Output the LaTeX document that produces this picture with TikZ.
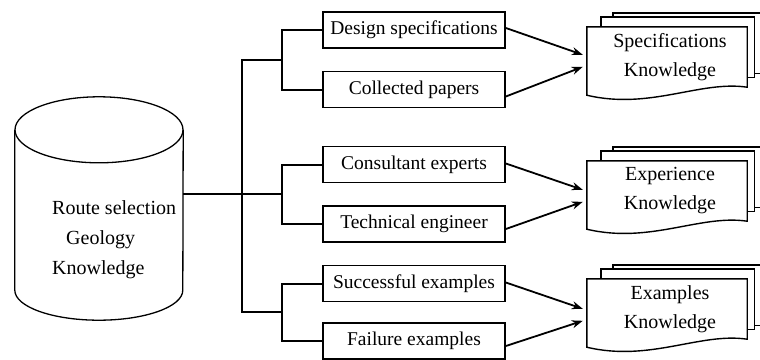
\documentclass[tikz,border=0pt]{standalone}
\usepackage{fontspec}
\setmainfont{Liberation Serif}
\usetikzlibrary{arrows.meta,calc,backgrounds}
\begin{document}
\begin{tikzpicture}[x=1pt,y=1pt,
  srcbox/.style={draw, line width=1.7pt, fill=white, minimum width=182pt, minimum height=36pt, inner sep=0pt, font=\fontsize{19.5}{22}\selectfont},
  tree/.style={line width=2pt},
  arr/.style={line width=1.8pt, -{Stealth[length=11pt,width=8pt]}},
  docfront/.style={minimum width=160pt, minimum height=60pt, inner sep=0pt, font=\fontsize{20}{29}\selectfont, align=center},
  sheet/.style={draw, fill=white, line width=1.4pt},
]
\useasboundingbox (0,0) rectangle (760,-359);

% cylinder
\node[minimum width=168pt, minimum height=223pt, inner sep=0pt] (cyl) at (99,-208.5) {};
\draw[line width=1.3pt] ([yshift=-33]cyl.north west) -- ([yshift=30]cyl.south west)
  arc[start angle=180, end angle=360, x radius=84, y radius=30] -- ([yshift=-33]cyl.north east);
\draw[line width=1.3pt] ([yshift=-33]cyl.north) ellipse[x radius=84, y radius=33];
\node[anchor=west, align=left, inner sep=0pt, font=\fontsize{20}{30}\selectfont] (cyltext) at (52,-240)
  {Route selection\\\hspace*{14pt}Geology\\Knowledge};

% source boxes
\node[srcbox] (b1) at (414,-30) {Design specifications};
\node[srcbox] (b2) at (414,-89.5) {Collected papers};
\node[srcbox] (b3) at (414,-164.5) {Consultant experts};
\node[srcbox] (b4) at (414,-224) {Technical engineer};
\node[srcbox] (b5) at (414,-283.5) {Successful examples};
\node[srcbox] (b6) at (414,-341) {Failure examples};

% tree connectors
\coordinate (g1) at ($(b1.west)!.5!(b2.west)+(-40,0)$);
\coordinate (g2) at ($(b3.west)!.5!(b4.west)+(-40,0)$);
\coordinate (g3) at ($(b5.west)!.5!(b6.west)+(-40,0)$);
\coordinate (t0) at ($(g2)+(-40,0)$);
\draw[tree] (b1.west) -| (g1) |- (b2.west);
\draw[tree] (b3.west) -| (g2) |- (b4.west);
\draw[tree] (b5.west) -| (g3) |- (b6.west);
\draw[tree] (g1) -- (g1 -| t0) -- (g3 -| t0) -- (g3);
\draw[tree] (cyl.east |- t0) -- (g2);

% documents
\node[docfront] (d1) at (667,-57) {\hspace*{6pt}Specifications\\\hspace*{6pt}Knowledge};
\node[docfront] (d2) at (667,-191) {\hspace*{6pt}Experience\\\hspace*{6pt}Knowledge};
\node[docfront] (d3) at (667,-309) {\hspace*{6pt}Examples\\\hspace*{6pt}Knowledge};
\begin{scope}[on background layer]
\foreach \d in {d1,d2,d3}{
  \draw[sheet] ([shift={(26,14)}]\d.north west) rectangle ([shift={(16,14)}]\d.south east);
  \draw[sheet] ([shift={(14,10)}]\d.north west) rectangle ([shift={(7,10)}]\d.south east);
  \draw[sheet] (\d.north west) -- (\d.north east) -- (\d.south east)
    .. controls +(-47,7) and +(63,-15) .. ([yshift=-8]\d.south west) -- cycle;
}
\end{scope}

% arrows
\draw[arr] ([yshift=2]b1.east) -- ([shift={(-4,-28)}]d1.north west);
\draw[arr] ([yshift=-7]b2.east) -- ([shift={(-4,-40)}]d1.north west);
\draw[arr] ([yshift=1]b3.east) -- ([shift={(-4,-29)}]d2.north west);
\draw[arr] ([yshift=-5]b4.east) -- ([shift={(-4,-41)}]d2.north west);
\draw[arr] ([yshift=1]b5.east) -- ([shift={(-4,-30)}]d3.north west);
\draw[arr] ([yshift=-5]b6.east) -- ([shift={(-4,-42)}]d3.north west);
\end{tikzpicture}
\end{document}
